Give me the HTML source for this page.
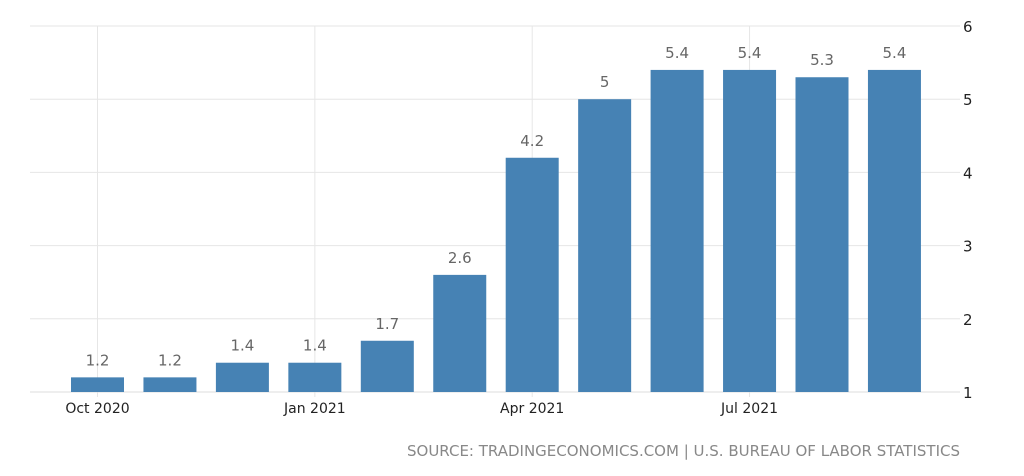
<!DOCTYPE html>
<html><head><meta charset="utf-8"><style>
body{margin:0;background:#fff;}
svg{display:block;font-family:"DejaVu Sans","Liberation Sans",sans-serif;}
</style></head><body>
<svg id="chart" width="1024" height="476"></svg>
<script>
const categories=["Oct 2020","Nov 2020","Dec 2020","Jan 2021","Feb 2021","Mar 2021","Apr 2021","May 2021","Jun 2021","Jul 2021","Aug 2021","Sep 2021"];
const values=[1.2,1.2,1.4,1.4,1.7,2.6,4.2,5,5.4,5.4,5.3,5.4];
const valueLabels=["1.2","1.2","1.4","1.4","1.7","2.6","4.2","5","5.4","5.4","5.3","5.4"];
const yTicks=[1,2,3,4,5,6];
const xTickIdx=[0,3,6,9];
const NS="http://www.w3.org/2000/svg";
const svg=document.getElementById('chart');
const y=v=>392-(v-1)*73.2;
const x=i=>97.5+i*72.45;
function mk(t,a,txt){const e=document.createElementNS(NS,t);for(const k in a)e.setAttribute(k,a[k]);if(txt!==undefined)e.textContent=txt;svg.appendChild(e);return e;}
yTicks.forEach(v=>{
  if(v>1){const g=mk('line',{x1:30,x2:960,y1:y(v),y2:y(v),stroke:'#e6e6e6','stroke-width':1});
  
  }
  const t=mk('text',{x:963,y:y(v)+6,'font-size':15,fill:'#222'},String(v));
  
  
});
xTickIdx.forEach(i=>{
  const g=mk('line',{x1:x(i),x2:x(i),y1:26,y2:397,stroke:'#e6e6e6','stroke-width':1});
  
  
  const t=mk('text',{x:x(i),y:413,'font-size':14,fill:'#222','text-anchor':'middle'},categories[i]);
  
  
});
const base=mk('line',{x1:30,x2:960,y1:392,y2:392,stroke:'#ddd','stroke-width':1});


values.forEach((v,i)=>{
  const b=mk('rect',{x:x(i)-26.5,y:y(v),width:53,height:392-y(v),fill:'#4682b4'});
  
  
  const t=mk('text',{x:x(i),y:y(v)-12,'font-size':15,fill:'#666','text-anchor':'middle'},valueLabels[i]);
  
  
});
const s=mk('text',{x:960,y:456,'font-size':15,fill:'#888','text-anchor':'end'},"SOURCE: TRADINGECONOMICS.COM | U.S. BUREAU OF LABOR STATISTICS");


</script>
</body></html>
